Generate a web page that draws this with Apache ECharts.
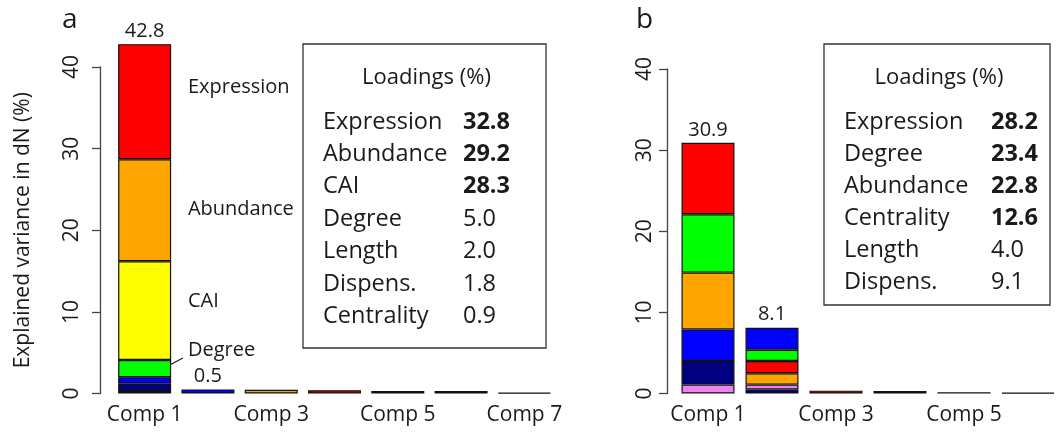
<!DOCTYPE html>
<html>
<head>
<meta charset="utf-8">
<script src="https://cdn.jsdelivr.net/npm/echarts@6/dist/echarts.min.js"></script>
<style>
  html, body { margin: 0; padding: 0; background: #fff; }
  #chart { width: 1060px; height: 438px; }
</style>
</head>
<body>
<div id="chart"></div>
<script>
// ---- panel a ----
const compsA = ['Comp 1', 'Comp 2', 'Comp 3', 'Comp 4', 'Comp 5', 'Comp 6', 'Comp 7'];
// segments of each bar, bottom to top: [variable, explained variance]
const segmentsA = [
  [['Centrality', 0.3], ['Length', 0.9], ['Dispens', 0.8], ['Degree', 2.1], ['CAI', 12.1], ['Abundance', 12.5], ['Expression', 14.1]],
  [['Dispens', 0.5]],
  [['Abundance', 0.45]],
  [['Expression', 0.4]],
  [['Length', 0.3]],
  [['Length', 0.3]],
  [['Length', 0.1]]
];
const totalsA = [42.8, 0.5];
const loadNamesA = ['Expression', 'Abundance', 'CAI', 'Degree', 'Length', 'Dispens.', 'Centrality'];
const loadValuesA = [32.8, 29.2, 28.3, 5.0, 2.0, 1.8, 0.9];
const annoNamesA = ['Expression', 'Abundance', 'CAI', 'Degree'];
const annoValuesA = [37.5, 22.6, 11.3, 5.3];

// ---- panel b ----
const compsB = ['Comp 1', 'Comp 2', 'Comp 3', 'Comp 4', 'Comp 5', 'Comp 6'];
const segmentsB = [
  [['Length', 1.1], ['Dispens', 2.9], ['Centrality', 3.9], ['Abundance', 7.0], ['Degree', 7.2], ['Expression', 8.8]],
  [['Dispens', 0.5], ['Length', 0.6], ['Abundance', 1.4], ['Expression', 1.5], ['Degree', 1.4], ['Centrality', 2.7]],
  [['Expression', 0.35]],
  [['Dispens', 0.3]],
  [['Dispens', 0.15]],
  [['Dispens', 0.1]]
];
const totalsB = [30.9, 8.1];
const loadNamesB = ['Expression', 'Degree', 'Abundance', 'Centrality', 'Length', 'Dispens.'];
const loadValuesB = [28.2, 23.4, 22.8, 12.6, 4.0, 9.1];

const colorsA = {
  Expression: '#ff0000', Abundance: '#ffa500', CAI: '#ffff00', Degree: '#00ff00',
  Dispens: '#0000ff', Length: '#000080', Centrality: '#ee82ee'
};
const colorsB = {
  Expression: '#ff0000', Abundance: '#ffa500', Degree: '#00ff00',
  Centrality: '#0000ff', Dispens: '#000080', Length: '#ee82ee'
};

const FONT = '"Open Sans", "Noto Sans", sans-serif';
const INK = '#1a1a1a';

const chart = echarts.init(document.getElementById('chart'));

function stackSeries(segs, colors, idx) {
  const depth = Math.max(...segs.map(s => s.length));
  const out = [];
  for (let k = 0; k < depth; k++) {
    out.push({
      type: 'bar',
      xAxisIndex: idx,
      yAxisIndex: idx,
      stack: 'stack' + idx,
      barWidth: 53,
      clip: false,
      itemStyle: { borderColor: '#111', borderWidth: 1.2 },
      data: segs.map(s => s[k] ? { value: s[k][1], itemStyle: { color: colors[s[k][0]] } } : '-')
    });
  }
  return out;
}

function totalLabels(comps, totals, idx) {
  return {
    type: 'scatter',
    xAxisIndex: idx,
    yAxisIndex: idx,
    symbolSize: 0,
    clip: false,
    z: 5,
    itemStyle: { opacity: 1 },
    data: totals.map((v, i) => [comps[i], v]),
    label: {
      show: true,
      position: 'top',
      distance: 3,
      opacity: 1,
      color: INK,
      fontFamily: FONT,
      fontSize: 20,
      formatter: p => p.value[1].toFixed(1)
    }
  };
}

function xAxis(comps, idx) {
  return {
    type: 'category',
    gridIndex: idx,
    data: comps,
    axisLine: { show: false },
    axisTick: { show: false },
    axisLabel: { interval: 1, color: INK, fontFamily: FONT, fontSize: 21, margin: 11 }
  };
}

function yAxis(idx, offset, margin) {
  return {
    type: 'value',
    gridIndex: idx,
    min: 0,
    max: 40,
    interval: 10,
    offset: offset,
    axisLine: { show: true, lineStyle: { color: '#444', width: 1.3 } },
    axisTick: { show: true, length: 8, lineStyle: { color: '#444', width: 1.3 } },
    splitLine: { show: false },
    axisLabel: { rotate: 90, margin: margin, color: INK, fontFamily: FONT, fontSize: 21 }
  };
}

function loadingsBox(x, y, w, h, names, values, valueX, step) {
  const children = [
    { type: 'rect', shape: { x: x, y: y, width: w, height: h },
      style: { fill: '#fff', stroke: '#333', lineWidth: 1.3 } },
    { type: 'text', style: { text: 'Loadings (%)', x: x + w / 2 + 2, y: y + 34, align: 'center', verticalAlign: 'middle',
      fontSize: 22, fontFamily: FONT, fill: INK } }
  ];
  names.forEach((n, i) => {
    const ty = y + 78 + i * step;
    children.push({ type: 'text', style: { text: n, x: x + 20, y: ty, align: 'left', verticalAlign: 'middle',
      fontSize: 23.5, fontFamily: FONT, fill: INK } });
    children.push({ type: 'text', style: { text: values[i].toFixed(1), x: valueX, y: ty, align: 'left', verticalAlign: 'middle',
      fontSize: 23.5, fontFamily: FONT, fontWeight: values[i] > 10 ? 'bold' : 'normal', fill: INK } });
  });
  return { type: 'group', z: 10, children: children };
}

chart.setOption({
  animation: false,
  grid: [
    { left: 113, width: 443, top: 67, bottom: 44.5 },
    { left: 676, width: 385, top: 69, bottom: 44.5 }
  ],
  xAxis: [xAxis(compsA, 0), xAxis(compsB, 1)],
  yAxis: [
    Object.assign(yAxis(0, 13, 17), {
      name: 'Explained variance in dN (%)',
      nameLocation: 'middle',
      nameGap: 66,
      nameTextStyle: { color: INK, fontFamily: FONT, fontSize: 21 }
    }),
    yAxis(1, 9, 11)
  ],
  series: [
    ...stackSeries(segmentsA, colorsA, 0),
    ...stackSeries(segmentsB, colorsB, 1),
    totalLabels(compsA, totalsA, 0),
    totalLabels(compsB, totalsB, 1),
    {
      type: 'scatter',
      xAxisIndex: 0,
      yAxisIndex: 0,
      symbolSize: 0,
      itemStyle: { opacity: 1 },
      data: annoValuesA.map(v => ['Comp 2', v]),
      label: {
        show: true,
        position: 'right',
        distance: 0,
        offset: [-20, 0],
        opacity: 1,
        color: INK,
        fontFamily: FONT,
        fontSize: 20,
        formatter: p => annoNamesA[p.dataIndex]
      }
    }
  ]
});

// leader line from the Degree segment to its label
const p1 = chart.convertToPixel({ gridIndex: 0 }, ['Comp 1', 3.0]);
const p2 = chart.convertToPixel({ gridIndex: 0 }, ['Comp 2', 4.35]);

chart.setOption({
  graphic: [
    { type: 'text', style: { text: 'a', x: 62, y: 20, verticalAlign: 'middle', fontSize: 28, fontFamily: FONT, fill: INK } },
    { type: 'text', style: { text: 'b', x: 636, y: 20, verticalAlign: 'middle', fontSize: 28, fontFamily: FONT, fill: INK } },
    { type: 'line', shape: { x1: p1[0] + 17.5, y1: p1[1], x2: p2[0] - 25, y2: p2[1] },
      style: { stroke: INK, lineWidth: 1.2 } },
    loadingsBox(303, 44, 243, 304, loadNamesA, loadValuesA, 463, 32.4),
    loadingsBox(824, 44, 226, 261, loadNamesB, loadValuesB, 991, 32.1)
  ]
});
</script>
</body>
</html>
